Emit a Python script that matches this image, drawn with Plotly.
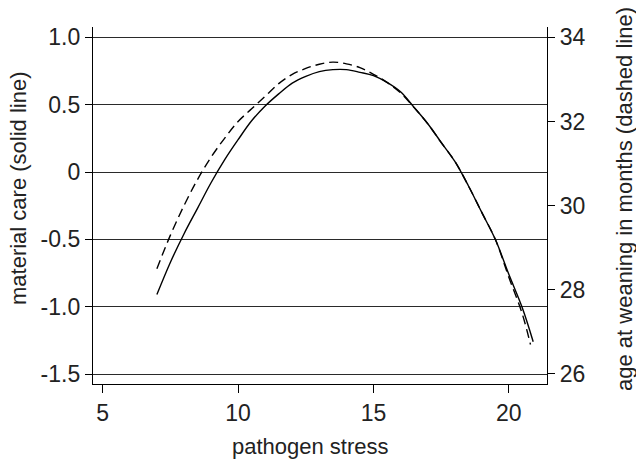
import plotly.graph_objects as go

# pathogen stress (x) for the maternal care curve (solid line, left axis)
care_x = [7.0, 7.5, 8.0, 8.5, 9.0, 9.5, 10.0, 10.5, 11.0, 11.5, 12.0, 12.5, 13.0, 13.5,
          14.0, 14.5, 15.0, 15.5, 16.0, 16.5, 17.0, 17.5, 18.0, 18.5, 19.0, 19.5, 20.0,
          20.5, 20.9]
care_y = [-0.91, -0.67, -0.46, -0.27, -0.08, 0.09, 0.24, 0.38, 0.49, 0.58, 0.66, 0.71,
          0.745, 0.76, 0.76, 0.74, 0.715, 0.665, 0.595, 0.48, 0.36, 0.22, 0.08, -0.10,
          -0.30, -0.50, -0.76, -1.01, -1.26]

# pathogen stress (x) for age at weaning (dashed line, right axis)
wean_x = [7.0, 7.5, 8.0, 8.5, 9.0, 9.5, 10.0, 10.5, 11.0, 11.5, 12.0, 12.5, 13.0, 13.5,
          14.0, 14.5, 15.0, 15.5, 16.0, 16.5, 17.0, 17.5, 18.0, 18.5, 19.0, 19.5, 20.0,
          20.5, 20.8]
wean_y = [28.50, 29.30, 30.00, 30.62, 31.15, 31.60, 32.00, 32.30, 32.60, 32.90, 33.12,
          33.26, 33.36, 33.41, 33.37, 33.28, 33.12, 32.93, 32.68, 32.33, 31.95, 31.50,
          31.06, 30.48, 29.84, 29.20, 28.30, 27.42, 26.70]

x_ticks = [5, 10, 15, 20]
left_ticks = [-1.5, -1.0, -0.5, 0, 0.5, 1.0]
left_labels = ["-1.5", "-1.0", "-0.5", "0", "0.5", "1.0"]
right_ticks = [26, 28, 30, 32, 34]

x_title = "pathogen stress"
left_title = "material care (solid line)"
right_title = "age at weaning in months (dashed line)"

FONT = "Arial, Liberation Sans, sans-serif"
TXT = "#222"

fig = go.Figure()
fig.add_trace(go.Scatter(x=care_x, y=care_y, mode="lines", line=dict(color="black", width=1.4),
                         line_shape="spline", showlegend=False, hoverinfo="skip"))
fig.add_trace(go.Scatter(x=wean_x, y=wean_y, mode="lines", yaxis="y2",
                         line=dict(color="black", width=1.4, dash="9px,5px"),
                         line_shape="spline", showlegend=False, hoverinfo="skip"))

fig.update_layout(
    width=636, height=459,
    margin=dict(l=93, r=89, t=27, b=75),
    paper_bgcolor="white", plot_bgcolor="white",
    font=dict(family=FONT, color=TXT, size=22),
    xaxis=dict(range=[4.64, 21.41], tickvals=x_ticks, ticks="outside", ticklen=8,
               tickcolor="black", tickwidth=1.3, showline=True, linecolor="black",
               linewidth=1.3, showgrid=False, zeroline=False, tickfont=dict(size=23)),
    yaxis=dict(range=[-1.574, 1.0765], tickvals=left_ticks, ticktext=left_labels,
               ticks="outside", ticklen=7, tickcolor="black", tickwidth=1.3,
               showline=True, linecolor="black", linewidth=1.3,
               showgrid=True, gridcolor="#2a2a2a", gridwidth=1.4, zeroline=False,
               tickfont=dict(size=23)),
    yaxis2=dict(range=[25.762, 34.245], tickvals=right_ticks, overlaying="y", side="right",
                ticks="outside", ticklen=7, tickcolor="black", tickwidth=1.3,
                showline=True, linecolor="black", linewidth=1.3, showgrid=False, zeroline=False,
                tickfont=dict(size=23)),
    annotations=[
        dict(text=x_title, xref="paper", yref="paper", x=0.478, y=-0.1737,
             xanchor="center", yanchor="middle", showarrow=False, font=dict(size=22, color=TXT)),
        dict(text=left_title, xref="paper", yref="paper", x=-0.1641, y=0.5504,
             xanchor="center", yanchor="middle", textangle=-90, showarrow=False,
             font=dict(size=22, color=TXT)),
        dict(text=right_title, xref="paper", yref="paper", x=1.1696, y=0.5182,
             xanchor="center", yanchor="middle", textangle=-90, showarrow=False,
             font=dict(size=22, color=TXT)),
    ],
)

fig.write_html("out.html", config={"displayModeBar": False},
               post_script="document.body.style.margin='0';")
